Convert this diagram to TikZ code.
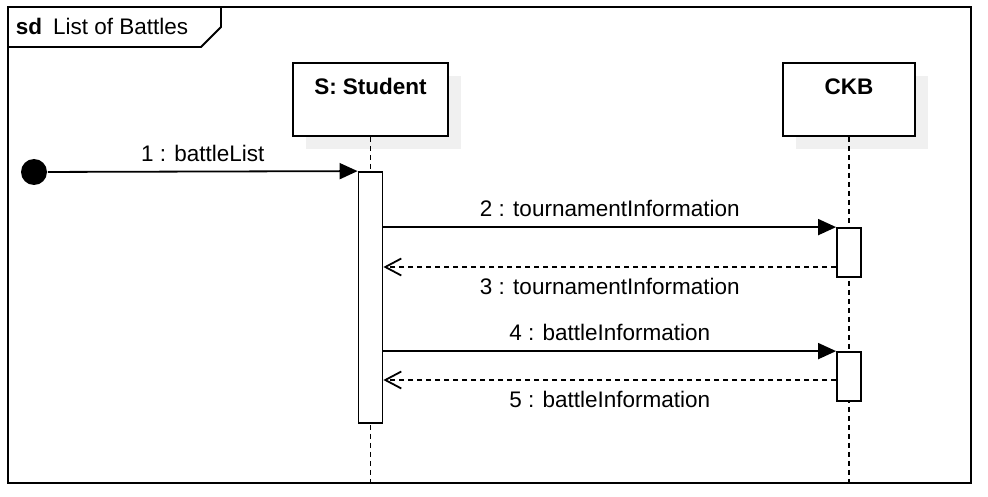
\documentclass[tikz,border=0pt]{standalone}
\usepackage{fontspec}
\setmainfont{Liberation Sans}
\usepackage{tikz}
\usetikzlibrary{arrows.meta, positioning, shadows}

\begin{document}
\begin{tikzpicture}[x=1pt,y=1pt,line width=1.8pt,
  font=\fontsize{22.5}{27}\selectfont,
  head/.style={draw,fill=white,line width=1.9pt,minimum height=73pt,text height=16pt,text depth=25pt,
    font=\fontsize{22.5}{27}\selectfont\bfseries,
    drop shadow={shadow xshift=13pt,shadow yshift=-13pt,fill=black!6,opacity=1}},
  act/.style={draw,fill=white,minimum width=24pt,inner sep=0pt},
  life/.style={dash pattern=on 5pt off 4pt},
  call/.style={-{Triangle[length=18pt,width=16pt]}},
  reply/.style={dash pattern=on 5pt off 4pt,-{Straight Barb[length=16pt,width=17pt]}},
  msg/.style={inner sep=0pt}]
\useasboundingbox (0,0) rectangle (988,496);
% frame
\draw (8,13) rectangle (971,489);
\draw (8,449) -- (201,449) -- (221,469) -- (221,489);
\node[anchor=base west,inner sep=0pt] (title) at (15,461) {\textbf{sd}\hspace{11pt}List of Battles};
% lifelines
\node[head,minimum width=155pt] (stu) at (370.5,396.5) {S: Student};
\node[head,minimum width=132pt] (ckb) at (849,396.5) {CKB};
\draw[life] (stu.south) -- (stu.south |- 0,13);
\draw[life] (ckb.south) -- (ckb.south |- 0,13);
% activations
\node[act,minimum height=251pt] (a0) at (stu.south |- 0,198.5) {};
\node[act,minimum height=49pt] (a1) at (ckb.south |- 0,243.5) {};
\node[act,minimum height=49pt] (a2) at (ckb.south |- 0,119.5) {};
\node[circle,fill,inner sep=0pt,minimum size=26pt] (start) at (34,324) {};
% messages
\draw[call] (start) -- (a0.north west) node[msg,midway,above=9pt] {1 : battleList};
\draw[call] (a0.east |- a1.north) -- (a1.north west) node[msg,midway,above=9pt] {2 : tournamentInformation};
\draw[reply] (a1.west |- 0,229) -- (a0.east |- 0,229) node[msg,midway,below=10pt] {3 : tournamentInformation};
\draw[call] (a0.east |- a2.north) -- (a2.north west) node[msg,midway,above=9pt] {4 : battleInformation};
\draw[reply] (a2.west |- 0,116) -- (a0.east |- 0,116) node[msg,midway,below=10pt] {5 : battleInformation};
\end{tikzpicture}
\end{document}
